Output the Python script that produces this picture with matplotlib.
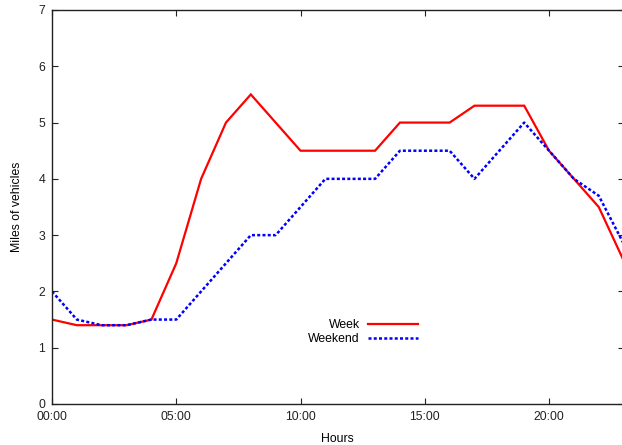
import matplotlib
matplotlib.use("Agg")
import matplotlib.pyplot as plt

hours = list(range(24))
week = [1.5, 1.4, 1.4, 1.4, 1.5, 2.5, 4.0, 5.0, 5.5, 5.0, 4.5, 4.5,
        4.5, 4.5, 5.0, 5.0, 5.0, 5.3, 5.3, 5.3, 4.5, 4.0, 3.5, 2.55]
weekend = [2.0, 1.5, 1.4, 1.4, 1.5, 1.5, 2.0, 2.5, 3.0, 3.0, 3.5, 4.0,
           4.0, 4.0, 4.5, 4.5, 4.5, 4.0, 4.5, 5.0, 4.5, 4.0, 3.7, 2.85]
xtick_pos = [0, 5, 10, 15, 20]
xtick_labels = ["00:00", "05:00", "10:00", "15:00", "20:00"]
ytick_pos = [0, 1, 2, 3, 4, 5, 6, 7]

plt.rcParams['font.family'] = ['Liberation Sans', 'DejaVu Sans']

W, H = 622, 445
fig = plt.figure(figsize=(W / 100, H / 100), dpi=100)
left, right, top, bottom = 52, 623.6, 10, 404
aw, ah = right - left, bottom - top
ax = fig.add_axes([left / W, 1 - bottom / H, aw / W, ah / H])

ax.plot(hours, week, color='#ff0000', lw=1.6, label='Week', solid_joinstyle='miter')
ax.plot(hours, weekend, color='#0000ff', lw=1.8, dashes=(1.2, 0.9), label='Weekend')

ax.set_xlim(0, 23)
ax.set_ylim(0, 7)
ax.set_xticks(xtick_pos)
ax.set_xticklabels(xtick_labels)
ax.set_yticks(ytick_pos)
ax.tick_params(direction='in', length=4, width=0.8, labelsize=8.8, colors='#222222',
               top=True, right=True, pad=5)
ax.tick_params(axis='x', pad=5)
for s in ax.spines.values():
    s.set_linewidth(1.0)
    s.set_color('#222222')

ax.set_xlabel('Hours', fontsize=8.8, labelpad=7)
ax.set_ylabel('Miles of vehicles', fontsize=8.8, labelpad=11)

fs = 8.8
fpx = fs * 100 / 72
leg = ax.legend(loc='center right',
                bbox_to_anchor=((418 + 0.4 * fpx - left) / aw, (bottom - 332) / ah),
                frameon=False, fontsize=fs, markerfirst=False, handlelength=50 / fpx,
                handletextpad=8 / fpx, labelspacing=0.15, borderaxespad=0)
for t in leg.get_texts():
    t.set_ha('right')

fig.savefig('out.png', dpi=100)
